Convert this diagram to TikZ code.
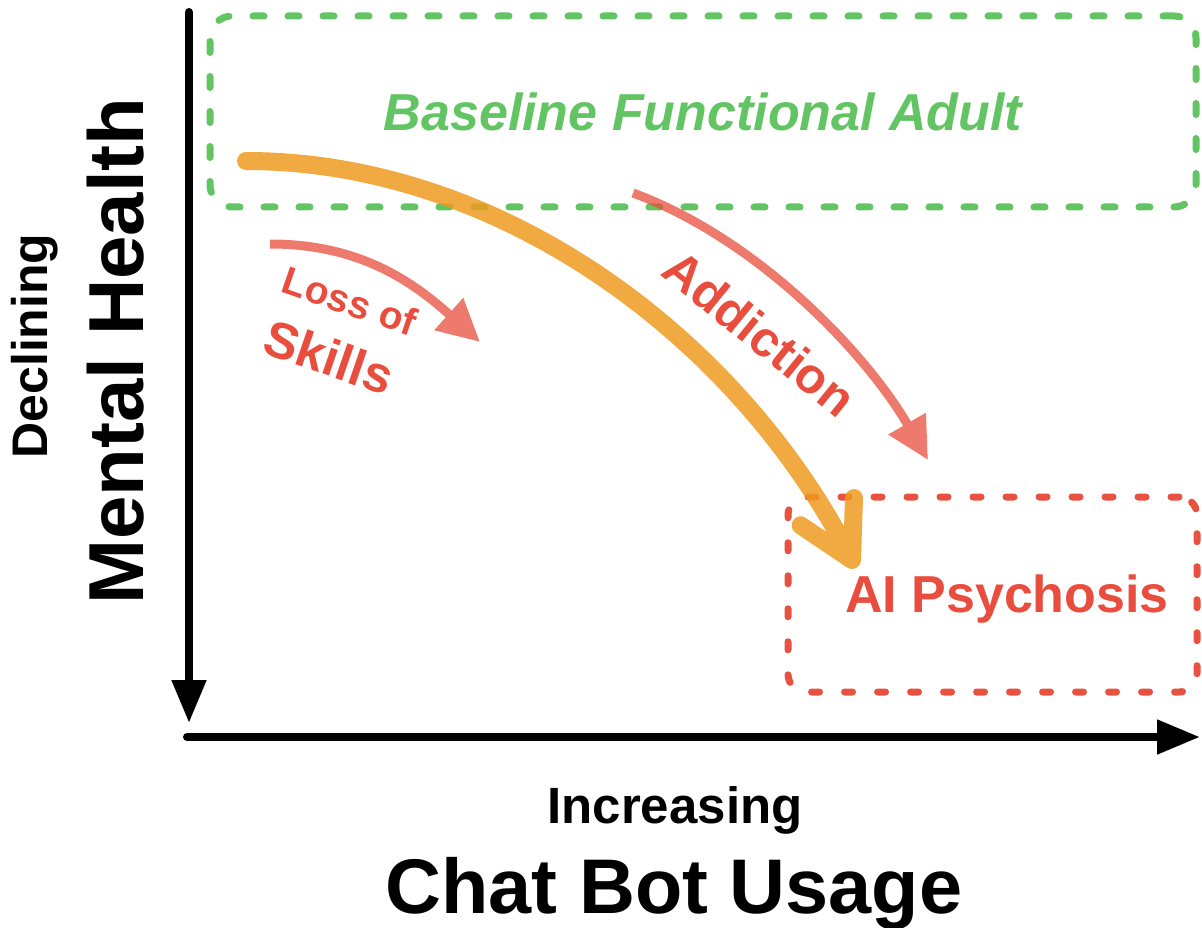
\documentclass[tikz,border=0pt]{standalone}
\usepackage{fontspec}
\setmainfont{Liberation Sans}
\usetikzlibrary{arrows.meta}
\definecolor{gr}{HTML}{63C463}
\definecolor{rd}{HTML}{E84D3D}
\definecolor{rdbox}{HTML}{E8503F}
\definecolor{org}{HTML}{EF9B20}
\begin{document}
\begin{tikzpicture}[x=1pt,y=-1pt,
  axisline/.style={line width=8pt, line cap=round, -{Triangle[length=43pt,width=33pt]}},
  redarrow/.style={draw=rd, line width=9pt, -{Triangle[length=42pt,width=41pt]}},
  bigorange/.style={draw=org, draw opacity=0.85, line width=18pt, line cap=round, line join=round},
  greenbox/.style={draw=gr, line width=7pt, line cap=round, dash pattern=on 11pt off 24pt,
    rounded corners=22pt, minimum width=986pt, minimum height=191pt, inner sep=0pt},
  redbox/.style={draw=rdbox, line width=7pt, line cap=round, dash pattern=on 8pt off 25pt,
    rounded corners=18pt, minimum width=409pt, minimum height=195pt, inner sep=0pt},
  lbl/.style={inner sep=0pt, font=\bfseries},
]
\useasboundingbox (0,0) rectangle (1202,928);

% boxes
\node[greenbox, text=gr, font=\bfseries\itshape\fontsize{52}{56}\selectfont] (basebox) at (703,111.5) {Baseline Functional Adult};
\node[redbox] (psybox) at (992.5,594.5) {};
\node[lbl, text=rd, anchor=base, font=\bfseries\fontsize{52}{56}\selectfont] (psytext) at (1007,612) {AI Psychosis};

% axes
\coordinate (origin) at (189,12);
\coordinate (ytip) at (189,723);
\coordinate (xstart) at (187,737);
\coordinate (xtip) at (1200,737);
\draw[axisline] (origin) -- (ytip);
\draw[axisline] (xstart) -- (xtip);

% axis labels
\node[lbl, anchor=base, rotate=90, font=\bfseries\fontsize{50}{54}\selectfont] (decl) at (47,346) {Declining};
\node[lbl, anchor=base, rotate=90, font=\bfseries\fontsize{78}{82}\selectfont] (mh) at (143,351) {Mental Health};
\node[lbl, anchor=base, font=\bfseries\fontsize{51}{55}\selectfont] (incr) at (675,823) {Increasing};
\node[lbl, anchor=base, font=\bfseries\fontsize{77.5}{82}\selectfont] (cbu) at (674,913) {Chat Bot Usage};

% red arrows
\coordinate (ls) at (270,244);
\coordinate (lt) at (480,342);
\coordinate (as) at (633,193);
\coordinate (at) at (928,460);
\begin{scope}[transparency group, opacity=0.75]
\draw[redarrow] (ls) .. controls (360,244) and (413,282) .. (lt);
\end{scope}
\begin{scope}[transparency group, opacity=0.75]
\draw[redarrow] (as) .. controls (760,240) and (868,356) .. (at);
\end{scope}

% red labels
\node[lbl, text=rd, rotate=-19, font=\bfseries\fontsize{39}{42}\selectfont] (loss) at (350,301) {Loss of};
\node[lbl, text=rd, rotate=-19, font=\bfseries\fontsize{51}{55}\selectfont] (skills) at (329,357) {Skills};
\node[lbl, text=rd, rotate=-39, font=\bfseries\fontsize{50}{54}\selectfont] (addict) at (760,333) {Addiction};

% orange arrow
\coordinate (os) at (246,161);
\coordinate (ot) at (852,560);
\coordinate (oa1) at (854,498);
\coordinate (oa2) at (800.6,525.3);
\draw[bigorange] (os) .. controls (500,161) and (738.5,337) .. (ot) (oa1) -- (ot) -- (oa2);
\end{tikzpicture}
\end{document}
